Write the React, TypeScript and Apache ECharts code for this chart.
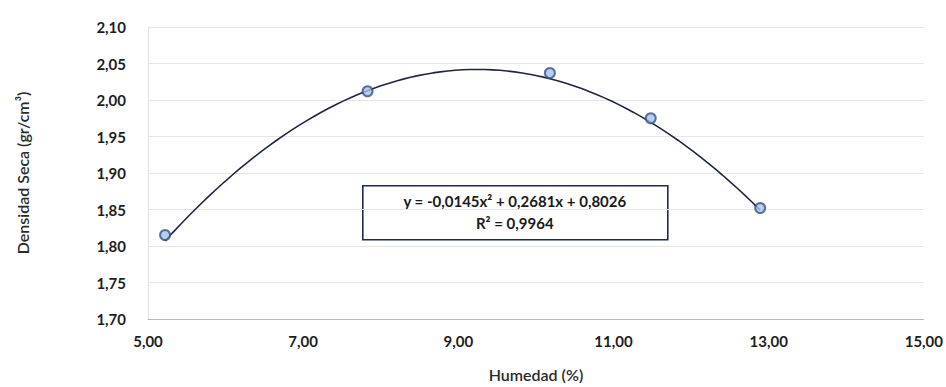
import React, { useEffect, useRef } from "react";
import * as echarts from "echarts";

const humedad: number[] = [5.22, 7.83, 10.18, 11.48, 12.89];
const densidad: number[] = [1.815, 2.012, 2.037, 1.975, 1.852];

// Polynomial trendline coefficients as printed on the chart: y = a x^2 + b x + c
const trendCoef: number[] = [-0.0145, 0.2681, 0.8026];
const equationLines: string[] = ["y = -0,0145x² + 0,2681x + 0,8026", "R² = 0,9964"];

const xTicks = { min: 5, max: 15, interval: 2 };
const yTicks = { min: 1.7, max: 2.1, interval: 0.05 };

const fmt = (v: number) => v.toFixed(2).replace(".", ",");

export default function App() {
  const ref = useRef<HTMLDivElement>(null);
  useEffect(() => {
    if (!ref.current) return;
    const chart = echarts.init(ref.current, undefined, { renderer: "svg" });
    const x0 = Math.min(...humedad);
    const x1 = Math.max(...humedad);
    const trend: number[][] = [];
    const steps = 80;
    for (let i = 0; i <= steps; i++) {
      const x = x0 + ((x1 - x0) * i) / steps;
      trend.push([x, trendCoef[0] * x * x + trendCoef[1] * x + trendCoef[2]]);
    }
    const font = "Lato, 'Open Sans', sans-serif";
    chart.setOption({
      animation: false,
      backgroundColor: "#ffffff",
      grid: { left: 148, right: 21, top: 27, bottom: 64 },
      xAxis: {
        type: "value",
        min: xTicks.min,
        max: xTicks.max,
        interval: xTicks.interval,
        name: "Humedad (%)",
        nameLocation: "middle",
        nameGap: 47,
        nameTextStyle: { fontFamily: font, fontSize: 16, fontWeight: 600, color: "#2a2a2a" },
        axisLine: { show: true, lineStyle: { color: "#b8b8b8", width: 1 } },
        axisTick: { show: false },
        splitLine: { show: false },
        axisLabel: {
          formatter: fmt,
          fontFamily: font,
          fontSize: 15,
          fontWeight: "bold",
          color: "#1e1e1e",
          margin: 14,
        },
      },
      yAxis: {
        type: "value",
        min: yTicks.min,
        max: yTicks.max,
        interval: yTicks.interval,
        name: "Densidad Seca (gr/cm³)",
        nameLocation: "middle",
        nameGap: 118,
        nameRotate: 90,
        nameTextStyle: { fontFamily: font, fontSize: 16, fontWeight: 600, color: "#2a2a2a" },
        axisLine: { show: true, lineStyle: { color: "#e2e2e2", width: 1 } },
        axisTick: { show: false },
        splitLine: { show: true, lineStyle: { color: "#e6e6e6", width: 1 } },
        axisLabel: {
          formatter: fmt,
          fontFamily: font,
          fontSize: 15,
          fontWeight: "bold",
          color: "#1e1e1e",
          margin: 22,
        },
      },
      series: [
        {
          type: "line",
          data: trend,
          showSymbol: false,
          symbol: "none",
          lineStyle: { color: "#1f2640", width: 1.6 },
          z: 2,
        },
        {
          type: "scatter",
          data: humedad.map((x, i) => [x, densidad[i]]),
          symbol: "circle",
          symbolSize: 10,
          itemStyle: { color: "#a9c1e3", borderColor: "#34508a", borderWidth: 2 },
          z: 3,
        },
      ],
      graphic: [
        {
          type: "group",
          left: 362,
          top: 185,
          children: [
            {
              type: "rect",
              shape: { x: 0, y: 0, width: 305, height: 54 },
              style: { fill: "#ffffff", stroke: "#1f2a50", lineWidth: 1.6 },
            },
            {
              type: "text",
              x: 152,
              y: 15,
              style: {
                text: equationLines[0],
                fontFamily: font,
                fontSize: 15,
                fontWeight: "bold",
                fill: "#1a1a1a",
                align: "center",
                verticalAlign: "middle",
              },
            },
            {
              type: "text",
              x: 152,
              y: 37,
              style: {
                text: equationLines[1],
                fontFamily: font,
                fontSize: 15,
                fontWeight: "bold",
                fill: "#1a1a1a",
                align: "center",
                verticalAlign: "middle",
              },
            },
          ],
        },
      ],
    });
    return () => chart.dispose();
  }, []);
  return (
    <div
      ref={ref}
      style={{ position: "fixed", left: 0, top: 0, width: 946, height: 387, background: "#fff" }}
    />
  );
}
